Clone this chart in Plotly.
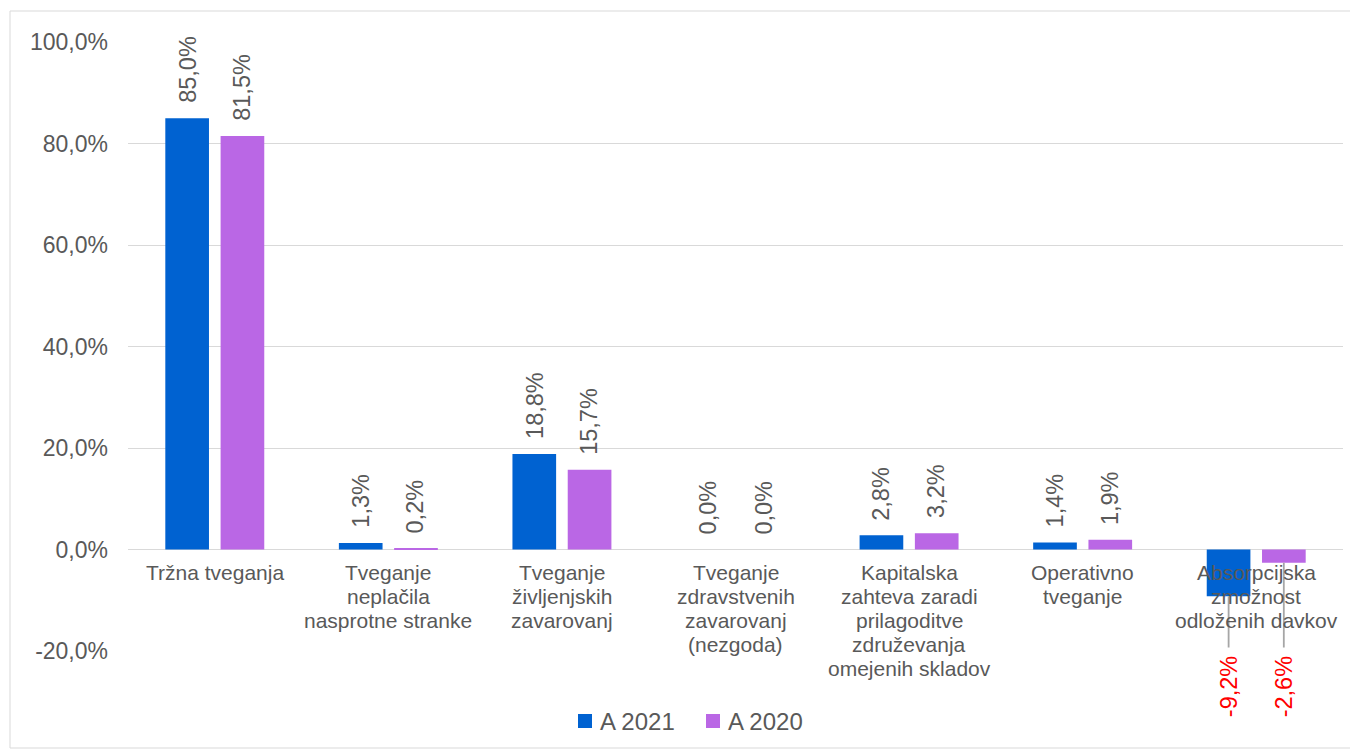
import plotly.graph_objects as go

categories = [
    "Tržna tveganja",
    "Tveganje<br>neplačila<br>nasprotne stranke",
    "Tveganje<br>življenjskih<br>zavarovanj",
    "Tveganje<br>zdravstvenih<br>zavarovanj<br>(nezgoda)",
    "Kapitalska<br>zahteva zaradi<br>prilagoditve<br>združevanja<br>omejenih skladov",
    "Operativno<br>tveganje",
    "Absorpcijska<br>zmožnost<br>odloženih davkov",
]
series_names = ["A 2021", "A 2020"]
values_2021 = [85.0, 1.3, 18.8, 0.0, 2.8, 1.4, -9.2]
values_2020 = [81.5, 0.2, 15.7, 0.0, 3.2, 1.9, -2.6]
tick_values = [-20, 0, 20, 40, 60, 80, 100]


def fmt(v):
    return f"{v:.1f}".replace(".", ",") + "%"


tick_labels = [fmt(v) for v in tick_values]

colors = ["#0062D1", "#BA67E5"]
text_color = "#595959"
font_family = "Liberation Sans, Arial, sans-serif"

# page has an 8px body margin; target plot area in page px: x 128..1343, y 42..651
OFF = 8
W, H = 1358 - OFF, 756 - OFF
PL, PR, PT, PB = 128, 1343, 42, 651
ml, mt = PL - OFF, PT - OFF
mr, mb = 1358 - PR, 756 - PB
pw, ph = PR - PL, PB - PT


def px_x(px):
    return (px - PL) / pw


def px_y(py):
    return (PB - py) / ph


fig = go.Figure()
for name, vals, col in zip(series_names, [values_2021, values_2020], colors):
    fig.add_trace(go.Bar(x=categories, y=vals, name=name, marker_color=col,
                         marker_line_width=0, showlegend=False))

annotations = []
offsets = [-27.6, 27.6]
for vals, dx in zip([values_2021, values_2020], offsets):
    for cat, v in zip(categories, vals):
        if v >= 0:
            annotations.append(dict(
                x=cat, y=v, xref="x", yref="y", text=fmt(v), showarrow=False,
                textangle=-90, xanchor="center", yanchor="bottom", xshift=dx, yshift=13,
                font=dict(size=23.5, color=text_color, family=font_family)))
        else:
            annotations.append(dict(
                x=cat, y=v, xref="x", yref="y", text=fmt(v), showarrow=True,
                arrowhead=0, arrowwidth=1.8, arrowcolor="#A6A6A6",
                ax=0, ayref="y", ay=-27.0, axref="pixel", startstandoff=7,
                textangle=-90, xshift=dx,
                font=dict(size=23.5, color="#FF0000", family=font_family)))

for cat in categories:
    for i, line in enumerate(cat.split("<br>")):
        annotations.append(dict(
            x=cat, y=0, xref="x", yref="y", text=line, showarrow=False,
            xanchor="center", yanchor="top", yshift=-9 - i * 24,
            font=dict(size=21, color=text_color, family=font_family)))

shapes = [dict(type="rect", xref="paper", yref="paper",
               x0=px_x(10), x1=px_x(1352), y0=px_y(748), y1=px_y(11),
               line=dict(color="#D9D9D9", width=1), fillcolor="rgba(0,0,0,0)", layer="below")]

# legend (drawn manually for tight spacing)
legend_sq_x = [578, 706]
legend_txt_x = [598, 726]
legend_cy = 721
for name, col, sx, tx in zip(series_names, colors, legend_sq_x, legend_txt_x):
    shapes.append(dict(type="rect", xref="paper", yref="paper",
                       x0=px_x(sx), x1=px_x(sx + 14), y0=px_y(legend_cy + 7), y1=px_y(legend_cy - 7),
                       line=dict(width=0), fillcolor=col))
    annotations.append(dict(x=px_x(tx), y=px_y(legend_cy), xref="paper", yref="paper",
                            text=name, showarrow=False, xanchor="left", yanchor="middle",
                            font=dict(size=24, color=text_color, family=font_family)))

fig.update_layout(
    width=W, height=H,
    margin=dict(l=ml, r=mr, t=mt, b=mb),
    plot_bgcolor="white", paper_bgcolor="white",
    barmode="group", bargap=0.363, bargroupgap=0.21,
    font=dict(family=font_family, color=text_color),
    showlegend=False,
    xaxis=dict(showticklabels=False, showgrid=False, showline=False, ticks=""),
    yaxis=dict(range=[-20, 100], tickmode="array", tickvals=tick_values, ticktext=tick_labels,
               showgrid=True, gridcolor="#D9D9D9", gridwidth=1,
               zeroline=True, zerolinecolor="#D9D9D9", zerolinewidth=1,
               showline=False, ticks="", ticklen=0, ticklabelstandoff=19,
               tickfont=dict(size=23, color=text_color, family=font_family)),
    annotations=annotations,
    shapes=shapes,
)

fig.write_html("out.html")
